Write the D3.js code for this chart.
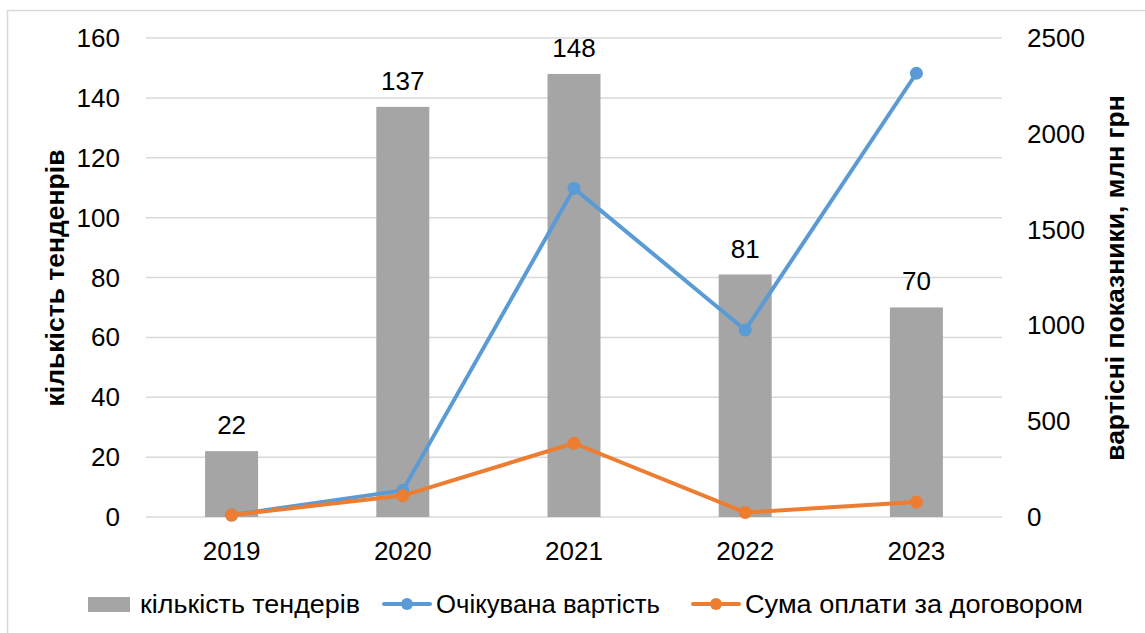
<!DOCTYPE html>
<html lang="uk">
<head>
  <meta charset="utf-8">
  <title>Тендери 2019–2023</title>
  <script src="https://d3js.org/d3.v7.min.js"></script>
  <style>
    html, body { margin: 0; padding: 0; background: #fff; }
    svg { display: block; font-family: "Liberation Sans", Arial, sans-serif; }
    .grid line { stroke: #d9d9d9; stroke-width: 1.5px; }
    .tick-label { font-size: 26px; fill: #000; }
    .axis-title { font-size: 26.5px; font-weight: bold; fill: #000; }
    .legend text { font-size: 25px; fill: #000; }
  </style>
</head>
<body>
  <svg width="1145" height="633"></svg>
  <script>
    // дані
    const years = ["2019", "2020", "2021", "2022", "2023"];
    const tenders = [22, 137, 148, 81, 70];
    const expected = [10, 139, 1715, 976, 2316];
    const paid = [10, 112, 385, 24, 78];
    const leftTicks = [0, 20, 40, 60, 80, 100, 120, 140, 160];
    const rightTicks = [0, 500, 1000, 1500, 2000, 2500];

    const svg = d3.select("svg");
    const plot = { left: 146, right: 1002, top: 38, bottom: 517 };

    // рамка
    svg.append("rect")
      .attr("x", 7.5).attr("y", 10.5)
      .attr("width", 1145).attr("height", 640)
      .attr("fill", "none").attr("stroke", "#d9d9d9").attr("stroke-width", 1.5);

    const x = d3.scaleBand().domain(years).range([plot.left, plot.right]);
    const yL = d3.scaleLinear().domain([0, 160]).range([plot.bottom, plot.top]);
    const yR = d3.scaleLinear().domain([0, 2500]).range([plot.bottom, plot.top]);

    // сітка
    svg.append("g").attr("class", "grid")
      .selectAll("line").data(leftTicks).enter().append("line")
      .attr("x1", plot.left).attr("x2", plot.right)
      .attr("y1", d => yL(d)).attr("y2", d => yL(d));

    // стовпці
    const barW = 53;
    svg.append("g").selectAll("rect").data(tenders).enter().append("rect")
      .attr("x", (d, i) => x(years[i]) + x.bandwidth() / 2 - barW / 2)
      .attr("y", d => yL(d))
      .attr("width", barW)
      .attr("height", d => yL(0) - yL(d))
      .attr("fill", "#a5a5a5");

    // підписи стовпців
    svg.append("g").selectAll("text").data(tenders).enter().append("text")
      .attr("class", "tick-label")
      .attr("x", (d, i) => x(years[i]) + x.bandwidth() / 2)
      .attr("y", d => yL(d) - 17)
      .attr("text-anchor", "middle")
      .text(d => d);

    // лінії
    const series = [
      { values: expected, color: "#5b9bd5" },
      { values: paid, color: "#ed7d31" }
    ];
    const line = d3.line()
      .x((d, i) => x(years[i]) + x.bandwidth() / 2)
      .y(d => yR(d));
    series.forEach(s => {
      svg.append("path").datum(s.values)
        .attr("d", line)
        .attr("fill", "none")
        .attr("stroke", s.color)
        .attr("stroke-width", 4)
        .attr("stroke-linejoin", "round");
      svg.append("g").selectAll("circle").data(s.values).enter().append("circle")
        .attr("cx", (d, i) => x(years[i]) + x.bandwidth() / 2)
        .attr("cy", d => yR(d))
        .attr("r", 6.5)
        .attr("fill", s.color);
    });

    // осі
    svg.append("g").selectAll("text").data(leftTicks).enter().append("text")
      .attr("class", "tick-label")
      .attr("x", 120).attr("y", d => yL(d) + 9)
      .attr("text-anchor", "end")
      .text(d => d);

    svg.append("g").selectAll("text").data(rightTicks).enter().append("text")
      .attr("class", "tick-label")
      .attr("x", 1027).attr("y", d => yR(d) + 9)
      .text(d => d);

    svg.append("g").selectAll("text").data(years).enter().append("text")
      .attr("class", "tick-label")
      .attr("x", d => x(d) + x.bandwidth() / 2).attr("y", 560)
      .attr("text-anchor", "middle")
      .text(d => d);

    svg.append("text").attr("class", "axis-title")
      .attr("transform", "translate(64,278) rotate(-90)")
      .attr("text-anchor", "middle")
      .text("кількість тенденрів");

    svg.append("text").attr("class", "axis-title")
      .attr("transform", "translate(1124,278) rotate(-90)")
      .attr("text-anchor", "middle")
      .text("вартісні показники, млн грн");

    // легенда
    const leg = svg.append("g").attr("class", "legend");
    leg.append("rect").attr("x", 88).attr("y", 597).attr("width", 42).attr("height", 15).attr("fill", "#a5a5a5");
    leg.append("text").attr("x", 140).attr("y", 613)
      .attr("textLength", 220).attr("lengthAdjust", "spacingAndGlyphs")
      .text("кількість тендерів");
    const lineItems = [
      { x: 384, label: "Очікувана вартість", color: "#5b9bd5", w: 224 },
      { x: 693, label: "Сума оплати за договором", color: "#ed7d31", w: 338 }
    ];
    lineItems.forEach(it => {
      leg.append("line").attr("x1", it.x).attr("x2", it.x + 46)
        .attr("y1", 604).attr("y2", 604)
        .attr("stroke", it.color).attr("stroke-width", 4).attr("stroke-linecap", "round");
      leg.append("circle").attr("cx", it.x + 23).attr("cy", 604).attr("r", 6).attr("fill", it.color);
      leg.append("text").attr("x", it.x + 52).attr("y", 613)
        .attr("textLength", it.w).attr("lengthAdjust", "spacingAndGlyphs")
        .text(it.label);
    });
  </script>
</body>
</html>
